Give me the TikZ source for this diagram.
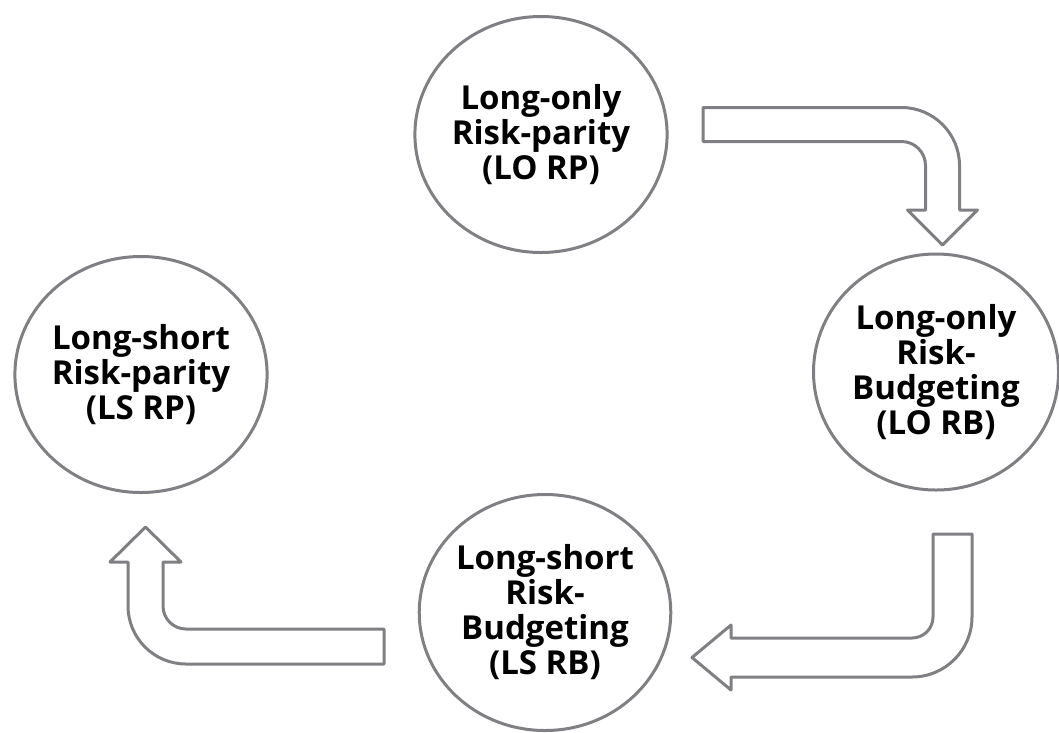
\documentclass[tikz,border=0pt]{standalone}
\usepackage{fontspec}
\setmainfont{Open Sans}
\usetikzlibrary{shapes.geometric}
\definecolor{rim}{RGB}{128,128,132}
\begin{document}
\begin{tikzpicture}[x=1pt,y=1pt,yscale=-1,
  stage/.style={ellipse, draw=rim, line width=3pt, fill=white,
    minimum width=245pt, minimum height=236pt, inner sep=0pt,
    align=center, font=\fontsize{33}{35}\selectfont\bfseries},
  bent/.style={draw=rim, line width=3pt, fill=white, line join=round}]
\useasboundingbox (0,0) rectangle (1059,732);

% the four portfolio types
\node[stage] (lorp) at (541,134.5) {Long-only\\Risk-parity\\(LO RP)};
\node[stage] (lorb) at (936,372) {Long-only\\Risk-\\Budgeting\\(LO RB)};
\node[stage] (lsrb) at (545,612.5) {Long-short\\Risk-\\Budgeting\\(LS RB)};
\node[stage] (lsrp) at (141,374.5) {Long-short\\Risk-parity\\(LS RP)};

% bent block arrows between them
\draw[bent] (703,107.5) -- (901.5,107.5)
  arc[start angle=-90, end angle=0, radius=58pt]
  -- (959.5,210) -- (977.5,210) -- (942.5,245) -- (907.5,210) -- (925.5,210)
  -- (925.5,165.5) arc[start angle=0, end angle=-90, radius=24pt]
  -- (703,141.5) -- cycle;

\draw[bent] (933,534) -- (972,534) -- (972,617)
  arc[start angle=0, end angle=90, radius=60pt]
  -- (731,677) -- (731,690) -- (692,657.5) -- (731,625) -- (731,638)
  -- (912,638) arc[start angle=90, end angle=0, radius=21pt]
  -- cycle;

\draw[bent] (384,629) -- (186,629)
  arc[start angle=90, end angle=180, radius=23pt]
  -- (163,562) -- (181,562) -- (145.5,527) -- (110,562) -- (128,562)
  -- (128,606) arc[start angle=180, end angle=90, radius=58pt]
  -- (384,664) -- cycle;
\end{tikzpicture}
\end{document}
